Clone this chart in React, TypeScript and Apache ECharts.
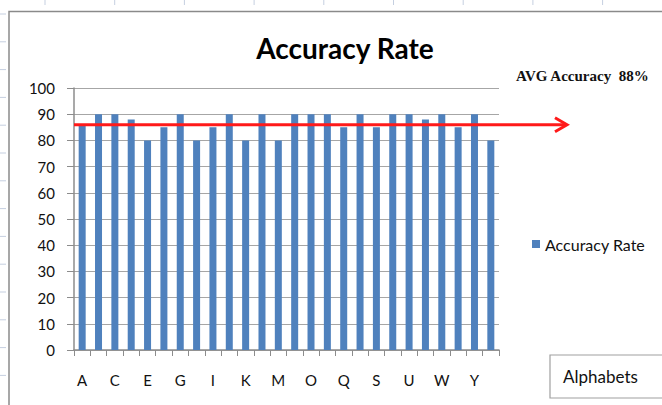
import React, { useEffect, useRef } from "react";
import * as echarts from "echarts";

const categories = ["A","B","C","D","E","F","G","H","I","J","K","L","M","N","O","P","Q","R","S","T","U","V","W","X","Y","Z"];
const accuracy = [86,90,90,88,80,85,90,80,85,90,80,90,80,90,90,90,85,90,85,90,90,88,90,85,90,80];
const yTicks = { min: 0, max: 100, interval: 10 };
const avgLineValue = 86;
const avgLabel = "AVG Accuracy  88%";
const titleText = "Accuracy Rate";
const seriesName = "Accuracy Rate";
const axisTitle = "Alphabets";

const FONT = "Lato, 'Open Sans', sans-serif";

export default function App() {
  const ref = useRef<HTMLDivElement>(null);
  useEffect(() => {
    if (!ref.current) return;
    const chart = echarts.init(ref.current, null, { renderer: "svg" });
    const gridLeft = 74, gridTop = 88, gridRight = 662 - 499, gridBottom = 405 - 350;
    chart.setOption({
      animation: false,
      backgroundColor: "#fff",
      textStyle: { fontFamily: FONT },
      title: {
        text: titleText,
        left: 340,
        top: 29,
        textAlign: "center",
        textStyle: { fontFamily: FONT, fontSize: 28, fontWeight: "bold", color: "#000" },
      },
      legend: {
        data: [seriesName],
        left: 527,
        top: 231,
        icon: "rect",
        itemWidth: 8,
        itemHeight: 8,
        itemGap: 5,
        textStyle: { fontFamily: FONT, fontSize: 16, color: "#111" },
      },
      grid: { left: gridLeft, right: gridRight, top: gridTop, bottom: gridBottom, containLabel: false },
      xAxis: {
        type: "category",
        data: categories,
        axisLine: { show: true, lineStyle: { color: "#8c8c8c", width: 1.5 } },
        axisTick: { show: true, interval: 0, length: 6, lineStyle: { color: "#8c8c8c" } },
        axisLabel: { interval: 1, fontFamily: FONT, fontSize: 15, color: "#111", margin: 22 },
        splitLine: { show: false },
      },
      yAxis: {
        type: "value",
        min: yTicks.min,
        max: yTicks.max,
        interval: yTicks.interval,
        axisLine: { show: true, lineStyle: { color: "#8c8c8c", width: 1.5 } },
        axisTick: { show: true, length: 7, lineStyle: { color: "#8c8c8c" } },
        axisLabel: { fontFamily: FONT, fontSize: 15, color: "#111", margin: 19 },
        splitLine: { show: true, lineStyle: { color: "#a6a6a6", width: 1.2 } },
      },
      series: [
        {
          name: seriesName,
          type: "bar",
          data: accuracy,
          barWidth: 7,
          itemStyle: { color: "#4F81BD" },
        },
      ],
    });

    const y = chart.convertToPixel({ yAxisIndex: 0 }, avgLineValue) as number;
    const xStart = chart.convertToPixel({ xAxisIndex: 0 }, categories[0]) as number;
    const startX = xStart - (499 - 74) / categories.length / 2;
    const tipX = 567;

    const deco: any[] = [];
    for (let i = 0; i < 14; i++) {
      deco.push({ type: "line", shape: { x1: 0, y1: 14 + i * 27.8, x2: 6, y2: 14 + i * 27.8 }, style: { stroke: "#c5cfe0", lineWidth: 1 }, silent: true });
    }
    for (let i = 0; i < 10; i++) {
      deco.push({ type: "line", shape: { x1: 45 + i * 69.7, y1: 0, x2: 45 + i * 69.7, y2: 5 }, style: { stroke: "#c5cfe0", lineWidth: 1 }, silent: true });
    }

    chart.setOption({
      graphic: [
        ...deco,
        { type: "polyline", shape: { points: [[9, 410], [9, 11.5], [670, 11.5]] }, style: { stroke: "#8a8a8a", lineWidth: 1.5, fill: null }, silent: true },
        { type: "line", shape: { x1: startX, y1: y, x2: tipX - 1, y2: y }, style: { stroke: "#ff1a1a", lineWidth: 3 }, z: 100 },
        { type: "polyline", shape: { points: [[tipX - 12, y - 7], [tipX, y], [tipX - 12, y + 7]] }, style: { stroke: "#ff1a1a", lineWidth: 3, fill: null }, z: 100 },
        { type: "text", x: 516, y: 76, style: { text: avgLabel, font: "bold 15px 'Liberation Serif', 'Times New Roman', serif", fill: "#111", verticalAlign: "middle" }, z: 100 },
        { type: "rect", shape: { x: 550, y: 355, width: 120, height: 43 }, style: { stroke: "#a0a0a0", lineWidth: 1.2, fill: "#fff" }, z: 100 },
        { type: "text", x: 563, y: 376, style: { text: axisTitle, font: "17px Lato, 'Open Sans', sans-serif", fill: "#111", verticalAlign: "middle" }, z: 101 },
      ],
    });
    return () => chart.dispose();
  }, []);
  return <div ref={ref} style={{ position: "fixed", left: 0, top: 0, width: 662, height: 405, background: "#fff" }} />;
}
